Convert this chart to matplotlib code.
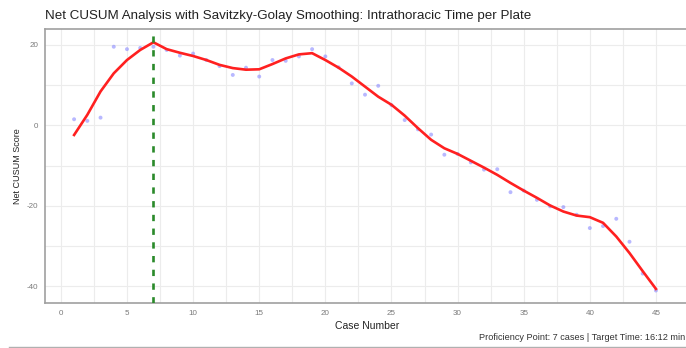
import matplotlib.pyplot as plt
from matplotlib.lines import Line2D
import numpy as np

plt.rcParams['font.family'] = ['Liberation Sans', 'DejaVu Sans']
plt.rcParams['axes.unicode_minus'] = False

# raw net CUSUM score per case
cases = np.arange(1, 46)
cusum = [1.5, 1.1, 1.9, 19.5, 18.9, 19.2, 19.5, 18.7, 17.3, 17.8,
         16.2, 14.7, 12.5, 14.3, 12.1, 16.2, 16.0, 17.1, 18.9, 17.1,
         14.4, 10.4, 7.6, 9.8, 5.0, 1.3, -1.0, -2.3, -7.3, -7.1,
         -9.2, -11.0, -10.9, -16.6, -16.2, -18.5, -20.1, -20.3, -22.2, -25.5,
         -25.0, -23.2, -28.9, -36.8, -41.0]
# Savitzky-Golay smoothed curve
smoothed = [-2.4, 2.6, 8.4, 12.9, 16.2, 18.7, 20.6, 18.9, 18.0, 17.2,
            16.2, 15.0, 14.2, 13.8, 13.9, 15.2, 16.6, 17.6, 17.9, 16.2,
            14.3, 12.1, 9.6, 7.1, 5.1, 2.4, -0.7, -3.6, -5.7, -7.1,
            -8.8, -10.5, -12.3, -14.3, -16.2, -18.0, -19.9, -21.4, -22.4, -22.8,
            -24.2, -27.6, -31.7, -36.2, -40.6]
proficiency_case = 7

W, H = 686, 348
fig = plt.figure(figsize=(W / 100, H / 100), dpi=100)
ax = fig.add_axes([45 / W, (H - 303) / H, (689 - 45) / W, (303 - 29) / H])

ax.scatter(cases, cusum, s=8, color='#7f7fff', alpha=0.55, edgecolors='none', zorder=3)
ax.plot(cases, smoothed, color='#ff2020', lw=1.9, zorder=4)
ax.axvline(proficiency_case, color='#2a8a2a', lw=1.9, linestyle=(0, (2.4, 2.8)), zorder=5)

ax.set_xlim(-1.2, 47.2)
ax.set_ylim(-44.1, 23.9)
ax.set_xticks(np.arange(0, 46, 5))
ax.set_yticks([-40, -20, 0, 20])
ax.set_xticks(np.arange(2.5, 48, 5), minor=True)
ax.set_yticks([-30, -10, 10], minor=True)
ax.grid(True, which='both', color='#ececec', lw=0.8)
ax.set_axisbelow(True)
ax.tick_params(which='both', length=0)
ax.tick_params(axis='both', labelsize=5.8, labelcolor='#7a7a7a', pad=5)

for s in ax.spines.values():
    s.set_color('#a0a0a0')
    s.set_linewidth(1.2)

ax.set_xlabel('Case Number', fontsize=7.5, color='#222222', labelpad=3)
ax.set_ylabel('Net CUSUM Score', fontsize=6.5, color='#222222', labelpad=3)

fig.text(45 / W, 1 - 19 / H, 'Net CUSUM Analysis with Savitzky-Golay Smoothing: Intrathoracic Time per Plate',
         fontsize=9.6, color='#222222', ha='left', va='baseline')
fig.text(685 / W, 1 - 340 / H, 'Proficiency Point: 7 cases | Target Time: 16:12 min',
         fontsize=6.6, color='#333333', ha='right', va='baseline')
fig.add_artist(Line2D([9 / W, 1], [1 - 347 / H] * 2, transform=fig.transFigure,
                      color='#b0b0b0', lw=1.0))

fig.savefig('out.png', dpi=100)
